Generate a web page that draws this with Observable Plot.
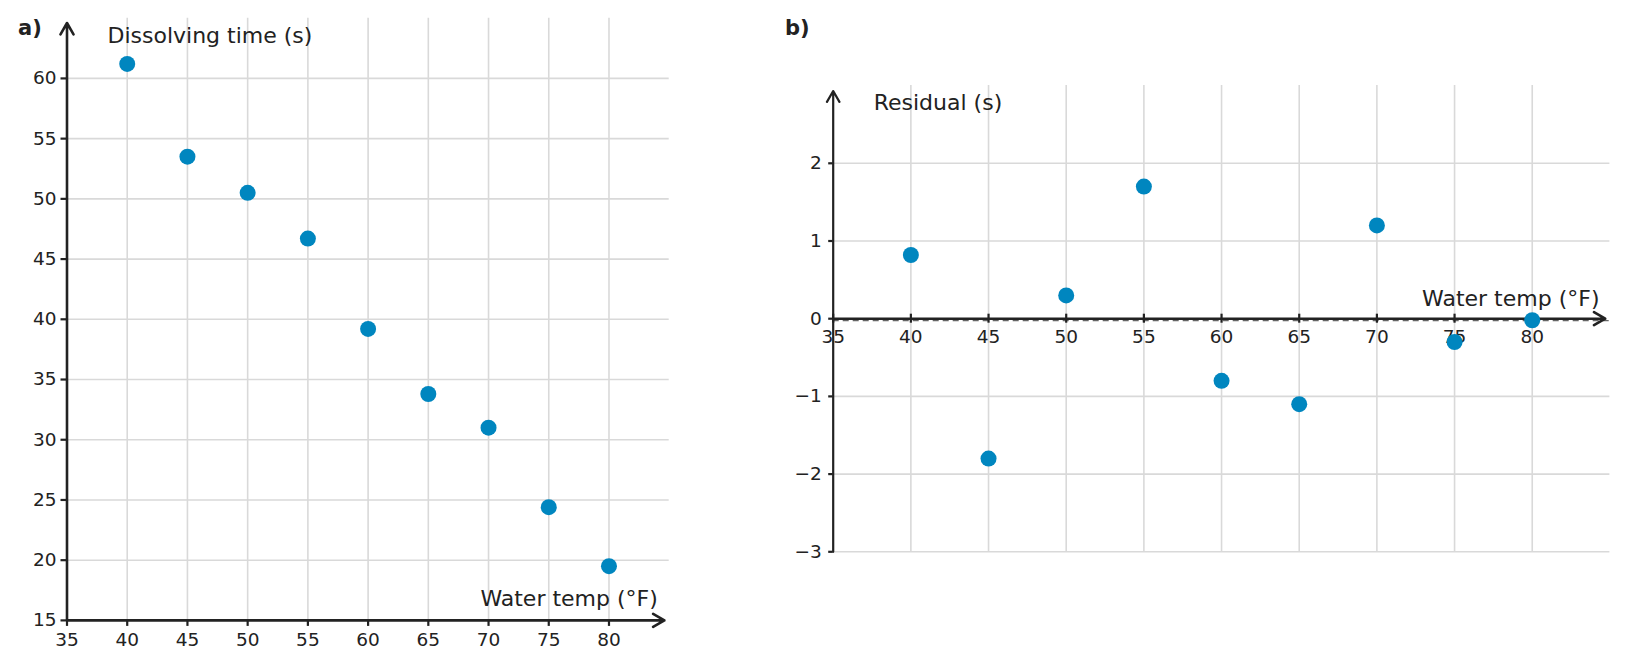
<!DOCTYPE html>
<html>
<head>
<meta charset="utf-8">
<script src="https://cdn.jsdelivr.net/npm/d3@7"></script>
<script src="https://cdn.jsdelivr.net/npm/@observablehq/plot@0.6"></script>
<style>
  body { margin: 0; background: #fff; }
  #wrap { position: relative; width: 1628px; height: 668px; font-family: "DejaVu Sans", sans-serif; color: #222; }
  #wrap > .panel { position: absolute; top: 0; }
  .tag { position: absolute; font-weight: bold; font-size: 21px; line-height: 22px; }
</style>
</head>
<body>
<div id="wrap">
  <div class="panel" id="pa" style="left:0"></div>
  <div class="panel" id="pb" style="left:760px"></div>
  <div class="tag" style="left:18px; top:17px">a)</div>
  <div class="tag" style="left:785px; top:17px">b)</div>
</div>
<script>
const temps = [40, 45, 50, 55, 60, 65, 70, 75, 80];
const dissolveTimes = [61.2, 53.5, 50.5, 46.7, 39.2, 33.8, 31.0, 24.4, 19.5];
const residuals = [0.82, -1.8, 0.3, 1.7, -0.8, -1.1, 1.2, -0.3, -0.02];
const xTicks = [35, 40, 45, 50, 55, 60, 65, 70, 75, 80];
const yTicksA = [15, 20, 25, 30, 35, 40, 45, 50, 55, 60];
const yTicksB = [-3, -2, -1, 0, 1, 2];

const dataA = temps.map((t, i) => ({temp: t, time: dissolveTimes[i]}));
const dataB = temps.map((t, i) => ({temp: t, res: residuals[i]}));

const ink = "#222";
const gridColor = "#d9d9d9";
const dotColor = "#0086bf";
const tickFont = 18.5;
const labelFont = 22;
const minusFmt = d => (d < 0 ? "\u2212" + Math.abs(d) : String(d));
const baseStyle = {fontFamily: "DejaVu Sans", fontSize: tickFont + "px", color: ink, background: "transparent", overflow: "visible"};

const plotA = Plot.plot({
  width: 700, height: 668,
  marginLeft: 66.5, marginRight: 31.3, marginTop: 17.7, marginBottom: 48.1,
  x: {domain: [35, 85], axis: null},
  y: {domain: [15, 65], axis: null},
  style: baseStyle,
  marks: [
    Plot.gridX(temps, {stroke: gridColor, strokeOpacity: 1, strokeWidth: 1.6}),
    Plot.gridY(yTicksA.filter(v => v > 15), {stroke: gridColor, strokeOpacity: 1, strokeWidth: 1.6}),
    Plot.axisX(xTicks, {tickSize: 6, tickPadding: 6.5, strokeWidth: 2.2, fontSize: tickFont, label: null}),
    Plot.axisY(yTicksA, {tickSize: 6, tickPadding: 4.5, strokeWidth: 2.2, fontSize: tickFont, label: null, tickFormat: minusFmt}),
    Plot.arrow([0], {x1: 35, y1: 15, x2: 84.6, y2: 15, stroke: ink, strokeWidth: 2.6, headLength: 7.5, headAngle: 60}),
    Plot.arrow([0], {x1: 35, y1: 15, x2: 35, y2: 64.6, stroke: ink, strokeWidth: 2.6, headLength: 7.5, headAngle: 60}),
    Plot.dot(dataA, {x: "temp", y: "time", r: 8, fill: dotColor, stroke: "none"}),
    Plot.text(["Dissolving time (s)"], {frameAnchor: "top-left", textAnchor: "start", lineAnchor: "middle", dx: 40.5, dy: 17.6, fontSize: labelFont, fill: ink}),
    Plot.text(["Water temp (°F)"], {frameAnchor: "bottom-right", textAnchor: "end", lineAnchor: "middle", dx: -11.4, dy: -21, fontSize: labelFont, fill: ink})
  ]
});
document.getElementById("pa").appendChild(plotA);

const plotB = Plot.plot({
  width: 868, height: 668,
  marginLeft: 72.7, marginRight: 18.6, marginTop: 85.1, marginBottom: 116.7,
  x: {domain: [35, 85], axis: null},
  y: {domain: [-3, 3], axis: null},
  style: baseStyle,
  marks: [
    Plot.gridX(temps, {stroke: gridColor, strokeOpacity: 1, strokeWidth: 1.6}),
    Plot.gridY(yTicksB.filter(v => v !== 0), {stroke: gridColor, strokeOpacity: 1, strokeWidth: 1.6}),
    Plot.ruleY([0], {stroke: "#666", strokeWidth: 1.3, strokeDasharray: "6,4", dy: 2}),
    Plot.axisY(yTicksB, {tickSize: 4.5, tickPadding: 7, strokeWidth: 2.2, fontSize: tickFont, label: null, tickFormat: minusFmt}),
    Plot.ruleX(xTicks, {x: d => d, y1: -0.058, y2: 0.058, stroke: ink, strokeWidth: 2.2}),
    Plot.text(xTicks, {x: d => d, y: 0, dy: 18.7, fontSize: tickFont, fill: ink}),
    Plot.arrow([0], {x1: 35, y1: 0, x2: 84.7, y2: 0, stroke: ink, strokeWidth: 2.6, headLength: 7.5, headAngle: 60}),
    Plot.arrow([0], {x1: 35, y1: -3, x2: 35, y2: 2.93, stroke: ink, strokeWidth: 2.2, headLength: 8.5, headAngle: 60}),
    Plot.dot(dataB, {x: "temp", y: "res", r: 8, fill: dotColor, stroke: "none"}),
    Plot.text(["Residual (s)"], {frameAnchor: "top-left", textAnchor: "start", lineAnchor: "middle", dx: 40.5, dy: 17.7, fontSize: labelFont, fill: ink}),
    Plot.text(["Water temp (°F)"], {frameAnchor: "right", textAnchor: "end", lineAnchor: "middle", dx: -10.4, dy: -20, fontSize: labelFont, fill: ink})
  ]
});
document.getElementById("pb").appendChild(plotB);
</script>
</body>
</html>
